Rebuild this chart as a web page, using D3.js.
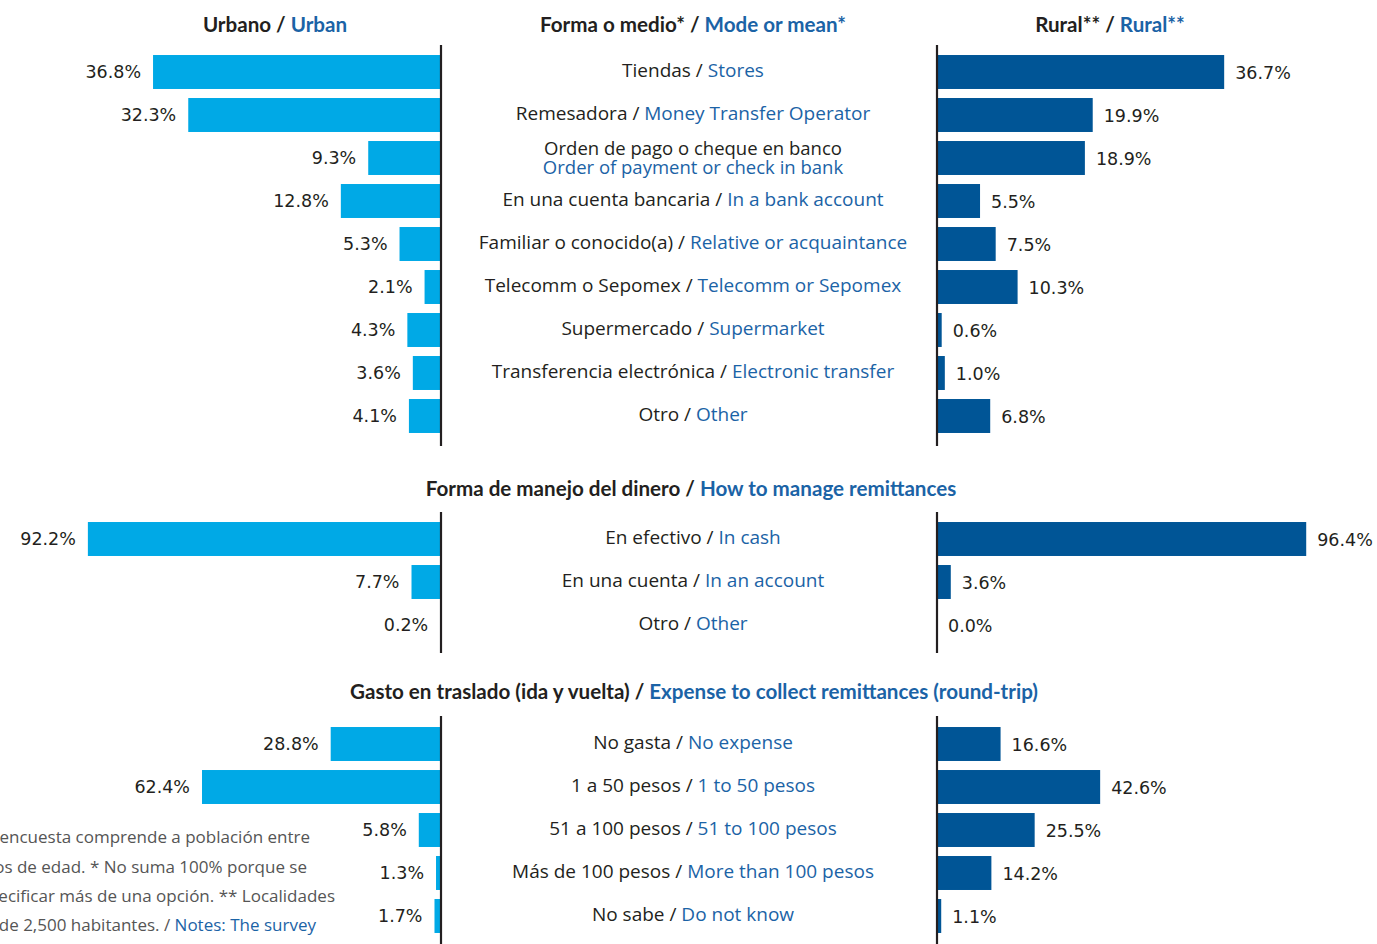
<!DOCTYPE html>
<html>
<head>
<meta charset="utf-8">
<script src="https://cdn.jsdelivr.net/npm/d3@7"></script>
<style>
  html, body { margin: 0; padding: 0; background: #fff; overflow: hidden; }
  svg { display: block; }
</style>
</head>
<body>
<svg id="chart" width="1377" height="944"></svg>
<script>
// ---------------- DATA ----------------
const modeEs = ["Tiendas", "Remesadora", "Orden de pago o cheque en banco", "En una cuenta bancaria",
  "Familiar o conocido(a)", "Telecomm o Sepomex", "Supermercado", "Transferencia electrónica", "Otro"];
const modeEn = ["Stores", "Money Transfer Operator", "Order of payment or check in bank", "In a bank account",
  "Relative or acquaintance", "Telecomm or Sepomex", "Supermarket", "Electronic transfer", "Other"];
const modeUrban = [36.8, 32.3, 9.3, 12.8, 5.3, 2.1, 4.3, 3.6, 4.1];
const modeRural = [36.7, 19.9, 18.9, 5.5, 7.5, 10.3, 0.6, 1.0, 6.8];

const manageEs = ["En efectivo", "En una cuenta", "Otro"];
const manageEn = ["In cash", "In an account", "Other"];
const manageUrban = [92.2, 7.7, 0.2];
const manageRural = [96.4, 3.6, 0.0];

const expenseEs = ["No gasta", "1 a 50 pesos", "51 a 100 pesos", "Más de 100 pesos", "No sabe"];
const expenseEn = ["No expense", "1 to 50 pesos", "51 to 100 pesos", "More than 100 pesos", "Do not know"];
const expenseUrban = [28.8, 62.4, 5.8, 1.3, 1.7];
const expenseRural = [16.6, 42.6, 25.5, 14.2, 1.1];

const headers = [
  { es: "Urbano", en: "Urban" },
  { es: "Forma o medio*", en: "Mode or mean*" },
  { es: "Rural**", en: "Rural**" }
];
const sectionTitles = [
  { es: "Forma de manejo del dinero", en: "How to manage remittances" },
  { es: "Gasto en traslado (ida y vuelta)", en: "Expense to collect remittances (round-trip)" }
];
const noteLines = [
  { es: "Notas: La encuesta comprende a población entre", en: "" },
  { es: "18 y 65 años de edad. * No suma 100% porque se", en: "" },
  { es: "puede especificar más de una opción. ** Localidades", en: "" },
  { es: "con menos de 2,500 habitantes. / ", en: "Notes: The survey" }
];

// ---------------- STYLE / LAYOUT ----------------
const C_URBAN = "#00a9e6";
const C_RURAL = "#005596";
const C_TEXT = "#231f20";
const C_BLUE = "#1b63a6";
const C_NOTE = "#555555";
const LABEL_FONT = "'Open Sans', 'Noto Sans', sans-serif";
const VALUE_FONT = "'DejaVu Sans', sans-serif";
const HEAD_FONT = "Lato, 'Open Sans', sans-serif";
const LABEL_SIZE = 19;
const HEAD_SIZE = 20.6;

const leftAxisX = 441, rightAxisX = 937, centerX = 693;

const svg = d3.select("#chart");

function fmt(v) { return v.toFixed(1) + "%"; }

function bilingual(g, x, y, es, en, opts) {
  const t = g.append("text")
    .attr("x", x).attr("y", y)
    .attr("text-anchor", opts.anchor || "middle")
    .attr("dominant-baseline", "central")
    .attr("font-family", opts.font)
    .attr("font-size", opts.size)
    .attr("font-weight", opts.weight || "normal");
  t.append("tspan").attr("fill", opts.esColor || C_TEXT).text(es + (en ? " / " : ""));
  if (en) t.append("tspan").attr("fill", C_BLUE).text(en);
  return t;
}

function section(cfg) {
  const { es, en, urban, rural, bandRange, axisRange, scaleMax, pxMax } = cfg;
  const idx = d3.range(es.length);
  const y = d3.scaleBand().domain(idx).range(bandRange).paddingInner(0.21).paddingOuter(0.105);
  const xL = d3.scaleLinear().domain([0, scaleMax]).range([leftAxisX, leftAxisX - pxMax]);
  const xR = d3.scaleLinear().domain([0, scaleMax]).range([rightAxisX, rightAxisX + pxMax]);
  const g = svg.append("g");

  g.selectAll(".bu").data(idx).join("rect")
    .attr("x", i => xL(urban[i])).attr("y", i => y(i))
    .attr("width", i => xL(0) - xL(urban[i])).attr("height", y.bandwidth())
    .attr("fill", C_URBAN);
  g.selectAll(".br").data(idx).join("rect")
    .attr("x", xR(0)).attr("y", i => y(i))
    .attr("width", i => xR(rural[i]) - xR(0)).attr("height", y.bandwidth())
    .attr("fill", C_RURAL);

  g.selectAll(".vu").data(idx).join("text")
    .attr("x", i => xL(urban[i]) - 12).attr("y", i => y(i) + y.bandwidth() / 2)
    .attr("text-anchor", "end").attr("dominant-baseline", "central")
    .attr("font-family", VALUE_FONT).attr("font-size", 17.5).attr("fill", C_TEXT)
    .text(i => fmt(urban[i]));
  g.selectAll(".vr").data(idx).join("text")
    .attr("x", i => xR(rural[i]) + 11).attr("y", i => y(i) + y.bandwidth() / 2 + 1)
    .attr("text-anchor", "start").attr("dominant-baseline", "central")
    .attr("font-family", VALUE_FONT).attr("font-size", 17.5).attr("fill", C_TEXT)
    .text(i => fmt(rural[i]));

  idx.forEach(i => {
    const cy = y(i) + y.bandwidth() / 2;
    if (cfg.twoLine && cfg.twoLine.includes(i)) {
      bilingual(g, centerX, cy - 11, es[i], "", { font: LABEL_FONT, size: 18.5 });
      g.append("text").attr("x", centerX).attr("y", cy + 8)
        .attr("text-anchor", "middle").attr("dominant-baseline", "central")
        .attr("font-family", LABEL_FONT).attr("font-size", 18.5).attr("fill", C_BLUE)
        .text(en[i]);
    } else {
      bilingual(g, centerX, cy - 2, es[i], en[i], { font: LABEL_FONT, size: LABEL_SIZE });
    }
  });

  [leftAxisX, rightAxisX].forEach(x => {
    g.append("line").attr("x1", x).attr("x2", x)
      .attr("y1", axisRange[0]).attr("y2", axisRange[1])
      .attr("stroke", "#231f20").attr("stroke-width", 2.2);
  });
}

// Headers
const headX = [275, 693, 1110];
headers.forEach((h, i) => bilingual(svg, headX[i], 24, h.es, h.en,
  { font: HEAD_FONT, size: HEAD_SIZE, weight: "bold" }));
bilingual(svg, 691, 488, sectionTitles[0].es, sectionTitles[0].en, { font: HEAD_FONT, size: HEAD_SIZE, weight: "bold" });
bilingual(svg, 694, 691, sectionTitles[1].es, sectionTitles[1].en, { font: HEAD_FONT, size: HEAD_SIZE, weight: "bold" });

section({ es: modeEs, en: modeEn, urban: modeUrban, rural: modeRural,
  bandRange: [50.5, 437.5], axisRange: [45, 446], scaleMax: 40, pxMax: 313, twoLine: [2] });
section({ es: manageEs, en: manageEn, urban: manageUrban, rural: manageRural,
  bandRange: [517.5, 646.5], axisRange: [512, 653], scaleMax: 100, pxMax: 383 });
section({ es: expenseEs, en: expenseEn, urban: expenseUrban, rural: expenseRural,
  bandRange: [722.5, 937.5], axisRange: [716, 944], scaleMax: 100, pxMax: 383 });

// Notes (partially cut at the left edge, as in the source)
const noteEnds = [310, 307, 335, 316];
const noteY = [836, 866, 895, 924];
noteLines.forEach((n, i) => {
  const t = svg.append("text").attr("x", noteEnds[i]).attr("y", noteY[i])
    .attr("text-anchor", "end").attr("dominant-baseline", "central")
    .attr("font-family", LABEL_FONT).attr("font-size", 17).attr("fill", C_NOTE);
  t.append("tspan").text(n.es);
  if (n.en) t.append("tspan").attr("fill", C_BLUE).text(n.en);
});
</script>
</body>
</html>
